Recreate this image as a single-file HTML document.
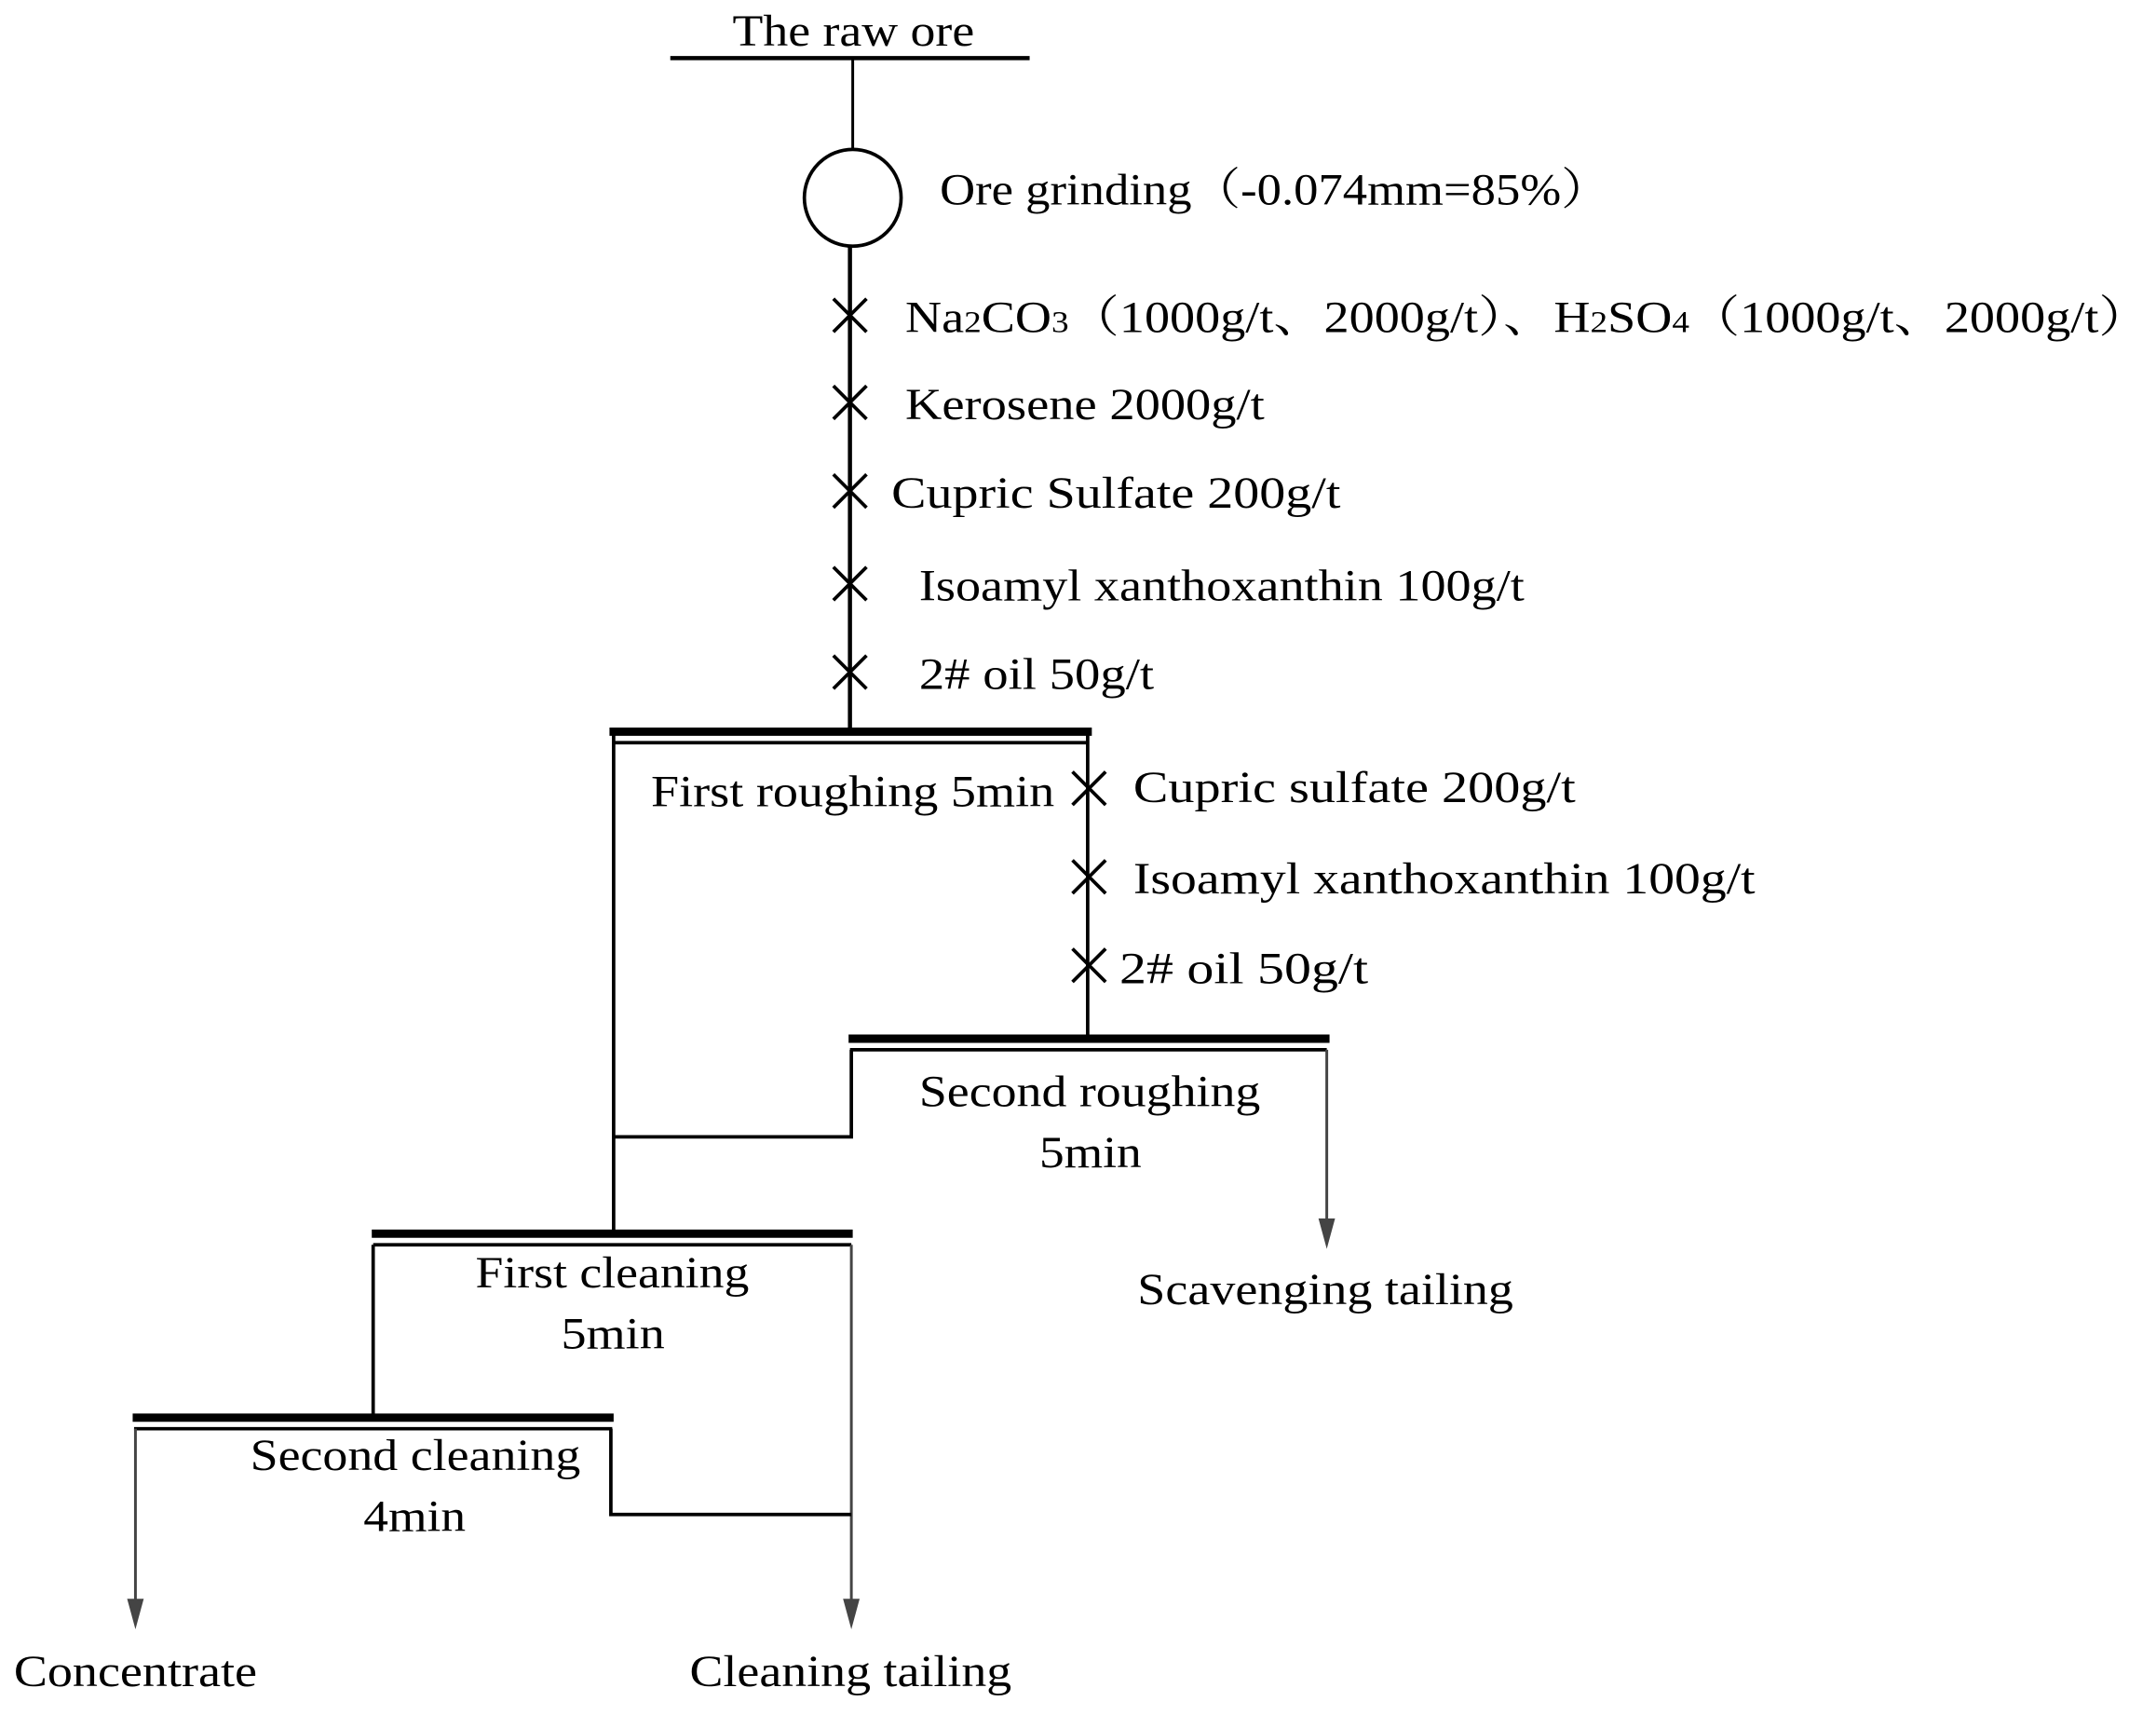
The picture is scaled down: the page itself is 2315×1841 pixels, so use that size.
<!DOCTYPE html>
<html><head><meta charset="utf-8"><style>html,body{margin:0;padding:0;background:#fff}svg{display:block}</style></head><body>
<svg width="2315" height="1841" viewBox="0 0 1560 1240" preserveAspectRatio="none" xmlns="http://www.w3.org/2000/svg" font-family="Liberation Serif, Noto Serif CJK SC, serif" font-size="32" fill="#000">
<g transform="translate(-3,-2)">
<g stroke="#000" fill="none">
<line x1="488" y1="44" x2="748" y2="44" stroke-width="3"/>
<line x1="620" y1="44" x2="620" y2="110" stroke-width="2"/>
<circle cx="620" cy="145" r="35" stroke-width="2.5"/>
<line x1="618" y1="180" x2="618" y2="531" stroke-width="3"/>
<g stroke-width="2.5">
<path d="M606,218 L630,242 M630,218 L606,242"/>
<path d="M606,281 L630,305 M630,281 L606,305"/>
<path d="M606,345 L630,369 M630,345 L606,369"/>
<path d="M606,412 L630,436 M630,412 L606,436"/>
<path d="M606,476 L630,500 M630,476 L606,500"/>
<path d="M779,560 L803,584 M803,560 L779,584"/>
<path d="M779,624 L803,648 M803,624 L779,648"/>
<path d="M779,688 L803,712 M803,688 L779,712"/>
</g>
<line x1="444" y1="531" x2="793" y2="531" stroke-width="6"/>
<line x1="446" y1="539" x2="791" y2="539" stroke-width="2.5"/>
<line x1="447" y1="531" x2="447" y2="892" stroke-width="2.5"/>
<line x1="790" y1="531" x2="790" y2="753" stroke-width="2.5"/>
<line x1="617" y1="753" x2="965" y2="753" stroke-width="6"/>
<line x1="618" y1="761" x2="963" y2="761" stroke-width="2.5"/>
<polyline points="619,761 619,824 447,824" stroke-width="2.5"/>
<line x1="963" y1="761" x2="963" y2="885" stroke="#444" stroke-width="2"/>
<line x1="272" y1="894" x2="620" y2="894" stroke-width="6"/>
<line x1="273" y1="902" x2="619" y2="902" stroke-width="2.5"/>
<line x1="273" y1="902" x2="273" y2="1027" stroke-width="2.5"/>
<line x1="619" y1="902" x2="619" y2="1160" stroke="#444" stroke-width="2"/>
<line x1="99" y1="1027" x2="447" y2="1027" stroke-width="6"/>
<line x1="100" y1="1035" x2="446" y2="1035" stroke-width="2.5"/>
<polyline points="445,1035 445,1097 619,1097" stroke-width="2.5"/>
<line x1="101" y1="1035" x2="101" y2="1160" stroke="#444" stroke-width="2"/>
</g>
<g fill="#444">
<path d="M957,883 L969,883 L963,905 Z"/>
<path d="M613,1158 L625,1158 L619,1180 Z"/>
<path d="M95,1158 L107,1158 L101,1180 Z"/>
</g>
<text x="533" y="35" textLength="175" lengthAdjust="spacingAndGlyphs">The raw ore</text>
<text x="683" y="150" textLength="485" lengthAdjust="spacingAndGlyphs">Ore grinding（-0.074mm=85%）</text>
<text x="658" y="242" textLength="900" lengthAdjust="spacingAndGlyphs">Na<tspan font-size="22">2</tspan>CO<tspan font-size="22">3</tspan>（1000g/t、2000g/t）、H<tspan font-size="22">2</tspan>SO<tspan font-size="22">4</tspan>（1000g/t、2000g/t）</text>
<text x="658" y="305" textLength="260" lengthAdjust="spacingAndGlyphs">Kerosene 2000g/t</text>
<text x="648" y="369" textLength="325" lengthAdjust="spacingAndGlyphs">Cupric Sulfate  200g/t</text>
<text x="668" y="436" textLength="438" lengthAdjust="spacingAndGlyphs">Isoamyl xanthoxanthin 100g/t</text>
<text x="668" y="500" textLength="170" lengthAdjust="spacingAndGlyphs">2# oil 50g/t</text>
<text x="474" y="585" textLength="292" lengthAdjust="spacingAndGlyphs">First roughing 5min</text>
<text x="823" y="582" textLength="320" lengthAdjust="spacingAndGlyphs">Cupric sulfate  200g/t</text>
<text x="823" y="648" textLength="450" lengthAdjust="spacingAndGlyphs">Isoamyl xanthoxanthin  100g/t</text>
<text x="813" y="713" textLength="180" lengthAdjust="spacingAndGlyphs">2# oil  50g/t</text>
<text x="668" y="802" textLength="247" lengthAdjust="spacingAndGlyphs">Second roughing</text>
<text x="755" y="846" textLength="74" lengthAdjust="spacingAndGlyphs">5min</text>
<text x="826" y="945" textLength="272" lengthAdjust="spacingAndGlyphs">Scavenging tailing</text>
<text x="347" y="933" textLength="198" lengthAdjust="spacingAndGlyphs">First cleaning</text>
<text x="409" y="977" textLength="75" lengthAdjust="spacingAndGlyphs">5min</text>
<text x="184" y="1065" textLength="239" lengthAdjust="spacingAndGlyphs">Second cleaning</text>
<text x="266" y="1109" textLength="74" lengthAdjust="spacingAndGlyphs">4min</text>
<text x="13" y="1221" textLength="176" lengthAdjust="spacingAndGlyphs">Concentrate</text>
<text x="502" y="1221" textLength="233" lengthAdjust="spacingAndGlyphs">Cleaning tailing</text>
</g>
</svg>
</body></html>
